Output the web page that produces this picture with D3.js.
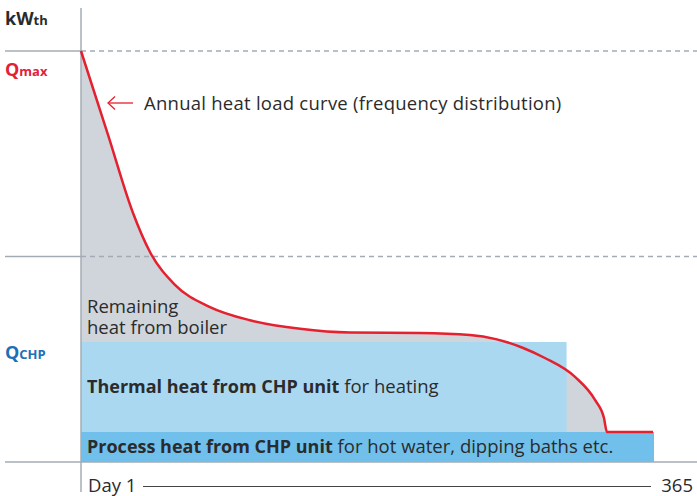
<!DOCTYPE html>
<html>
<head>
<meta charset="utf-8">
<script src="https://cdn.jsdelivr.net/npm/d3@7"></script>
<style>
  body { margin: 0; background: #fff; }
  svg { display: block; font-family: "Open Sans", sans-serif; }
</style>
</head>
<body>
<div id="chart"></div>
<script>
// annual heat load curve, day of year -> % of Qmax
const days = [1, 18.2, 34.1, 44.9, 60.8, 83.1, 108.5, 140.4, 172.2, 216.7, 248.5, 265, 282, 296.2, 315.4, 328.1, 333.8, 335.7, 365]
const load = [100, 79.6, 60.6, 51.1, 43.1, 37.7, 34.5, 32.4, 31.5, 31.4, 30.9, 29.9, 27.8, 25.3, 20.7, 15.1, 10.7, 7.3, 7.3]

const qMax = 100
const qMid = 50
const chpThermal = 29.2   // top of CHP heating band
const chpProcess = 7.3    // top of process heat band
const chpThermalEnd = 310 // last day of CHP heating band
const boilerEnd = 335.7   // grey area ends where curve drops
const dayLabels = ["Day 1", "365"]

const width = 697, height = 496
const svg = d3.select("#chart").append("svg")
  .attr("width", width).attr("height", height)

const x = d3.scaleLinear().domain([1, 365]).range([81, 653])
const y = d3.scaleLinear().domain([0, 100]).range([462, 51])

const pts = days.map((d, i) => ({ day: d, v: load[i] }))
const curve = d3.curveMonotoneX

// grey remaining heat area
svg.append("path")
  .datum(pts.filter(p => p.day <= boilerEnd))
  .attr("fill", "#cfd5db")
  .attr("d", d3.area().x(p => x(p.day)).y0(y(0)).y1(p => y(p.v)).curve(curve))

// CHP bands
svg.append("rect")
  .attr("x", x(1)).attr("y", y(chpThermal))
  .attr("width", x(chpThermalEnd) - x(1)).attr("height", y(chpProcess) - y(chpThermal))
  .attr("fill", "#aad8f1")
svg.append("rect")
  .attr("x", x(1)).attr("y", y(chpProcess))
  .attr("width", x(365) - x(1) + 1).attr("height", y(0) - y(chpProcess))
  .attr("fill", "#70c0eb")

// reference lines
const lineCol = "#a3acb4"
;[qMax, qMid].forEach(q => {
  svg.append("line").attr("x1", 5).attr("x2", x(1)).attr("y1", y(q)).attr("y2", y(q))
    .attr("stroke", lineCol).attr("stroke-width", 1.3)
  svg.append("line").attr("x1", x(1)).attr("x2", width).attr("y1", y(q)).attr("y2", y(q))
    .attr("stroke", lineCol).attr("stroke-width", 1.3).attr("stroke-dasharray", "5,4")
})
svg.append("line").attr("x1", 5).attr("x2", width).attr("y1", y(0)).attr("y2", y(0))
  .attr("stroke", lineCol).attr("stroke-width", 1.3)
svg.append("line").attr("x1", x(1)).attr("x2", x(1)).attr("y1", 8).attr("y2", 492)
  .attr("stroke", lineCol).attr("stroke-width", 1.5)

// load curve
svg.append("path")
  .datum(pts)
  .attr("fill", "none")
  .attr("stroke", "#e5202f")
  .attr("stroke-width", 2.5)
  .attr("d", d3.line().x(p => x(p.day)).y(p => y(p.v)).curve(curve))

const txt = "#2b2b2b"
const fs = 18.5, fsBold = 18

// y labels
const kw = svg.append("text").attr("x", 5).attr("y", 25).attr("fill", txt)
  .attr("font-weight", "bold").attr("font-size", 18)
kw.append("tspan").text("kW")
kw.append("tspan").attr("font-size", 13).text("th")

const qm = svg.append("text").attr("x", 5).attr("y", y(qMax) + 25).attr("fill", "#e3203a")
  .attr("font-weight", "bold").attr("font-size", 18)
qm.append("tspan").text("Q")
qm.append("tspan").attr("font-size", 13).text("max")

const qc = svg.append("text").attr("x", 5).attr("y", y(chpThermal) + 17).attr("fill", "#1d6fb6")
  .attr("font-weight", "bold").attr("font-size", 18)
qc.append("tspan").text("Q")
qc.append("tspan").attr("font-size", 13).text("CHP")

// annotation arrow
svg.append("line").attr("x1", 108).attr("x2", 133).attr("y1", 103).attr("y2", 103)
  .attr("stroke", "#e5202f").attr("stroke-width", 1.3)
svg.append("path").attr("d", "M115,96.5 L108,103 L115,109.5")
  .attr("fill", "none").attr("stroke", "#e5202f").attr("stroke-width", 1.3)
svg.append("text").attr("x", 144).attr("y", 110).attr("fill", txt).attr("font-size", fs)
  .attr("letter-spacing", 0.25)
  .text("Annual heat load curve (frequency distribution)")

// area labels
const rb = svg.append("text").attr("x", 87).attr("y", 313).attr("fill", txt).attr("font-size", fs)
rb.append("tspan").attr("x", 87).text("Remaining")
rb.append("tspan").attr("x", 87).attr("dy", 21).text("heat from boiler")

const th = svg.append("text").attr("x", 87).attr("y", 393).attr("fill", txt).attr("font-size", fs)
th.append("tspan").attr("font-weight", "bold").attr("font-size", fsBold).text("Thermal heat from CHP unit")
th.append("tspan").text(" for heating")

const ph = svg.append("text").attr("x", 87).attr("y", 453).attr("fill", txt).attr("font-size", fs)
ph.append("tspan").attr("font-weight", "bold").attr("font-size", fsBold).text("Process heat from CHP unit")
ph.append("tspan").text(" for hot water, dipping baths etc.")

// x labels
svg.append("text").attr("x", 88).attr("y", 492).attr("fill", txt).attr("font-size", fs).text(dayLabels[0])
svg.append("text").attr("x", 693).attr("y", 492).attr("fill", txt).attr("font-size", fs)
  .attr("text-anchor", "end").text(dayLabels[1])
svg.append("line").attr("x1", 143).attr("x2", 651).attr("y1", 486.5).attr("y2", 486.5)
  .attr("stroke", "#444").attr("stroke-width", 1.2)
</script>
</body>
</html>
